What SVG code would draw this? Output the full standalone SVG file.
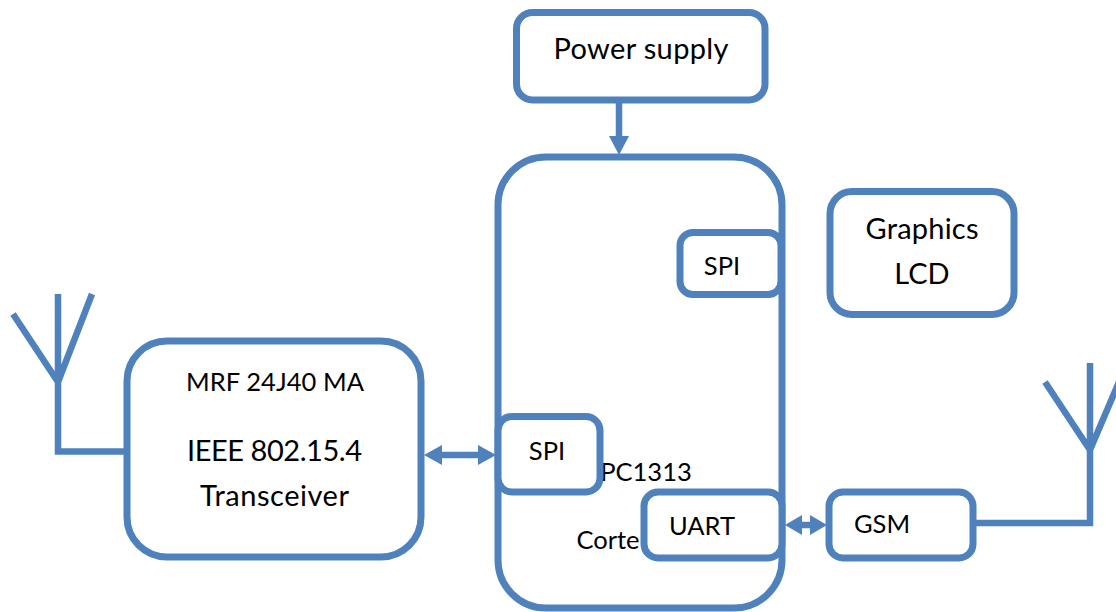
<svg xmlns="http://www.w3.org/2000/svg" width="1116" height="612" viewBox="0 0 1116 612">
<style>
.b{fill:#fff;stroke:#4f81bd;stroke-width:7}
.l{fill:none;stroke:#4f81bd;stroke-width:6.500}
.h{fill:#4f81bd}
text{font-family:Lato,"Open Sans","Liberation Sans",sans-serif;fill:#000;font-size:29px;text-anchor:middle}
.s{font-size:25.500px}
</style>
<rect width="1116" height="612" fill="#fff"/>
<g id="controller">
<rect class="b" x="498" y="157" width="284" height="451" rx="48"/>
<text class="s" x="646" y="481">PC1313</text>
<text class="s" x="608" y="549">Corte</text>
</g>
<g id="connectors">
<path class="l" d="M13 314L58 382M92 294L58 382M58 294V451.500H127"/>
<path class="l" d="M1045 382L1090 450M1122 375L1090 450M1090 363V523H975"/>
<path class="l" d="M619 102V138"/>
<polygon class="h" points="609,136 629,136 619,155"/>
<path class="l" d="M440 455H480"/>
<polygon class="h" points="424,455 442,445 442,465"/>
<polygon class="h" points="496,455 478,445 478,465"/>
<path class="l" d="M800 525H812"/>
<polygon class="h" points="785,525 802,515 802,535"/>
<polygon class="h" points="827,525 810,515 810,535"/>
</g>
<g id="power"><rect class="b" x="516.500" y="12.500" width="248.500" height="87.500" rx="16"/><text x="641" y="59" textLength="175" lengthAdjust="spacing">Power supply</text></g>
<g id="spi-top"><rect class="b" x="680" y="232.500" width="101" height="62" rx="13"/><text class="s" x="722" y="275">SPI</text></g>
<g id="lcd"><rect class="b" x="830" y="191.500" width="184" height="123" rx="22"/><text x="922" y="239" textLength="113" lengthAdjust="spacing">Graphics</text><text x="922" y="284">LCD</text></g>
<g id="mrf"><rect class="b" x="127" y="341" width="294" height="216" rx="40"/><text class="s" x="275" y="391" textLength="178" lengthAdjust="spacing">MRF 24J40 MA</text><text x="274.500" y="461" textLength="175" lengthAdjust="spacing">IEEE 802.15.4</text><text x="274.500" y="506" textLength="149" lengthAdjust="spacing">Transceiver</text></g>
<g id="spi-left"><rect class="b" x="498" y="416.500" width="102" height="75.500" rx="14"/><text class="s" x="547" y="460">SPI</text></g>
<g id="uart"><rect class="b" x="644" y="492" width="138" height="66" rx="14"/><text class="s" x="702" y="535">UART</text></g>
<g id="gsm"><rect class="b" x="829" y="492" width="144" height="66" rx="14"/><text class="s" x="882" y="533">GSM</text></g>
</svg>
